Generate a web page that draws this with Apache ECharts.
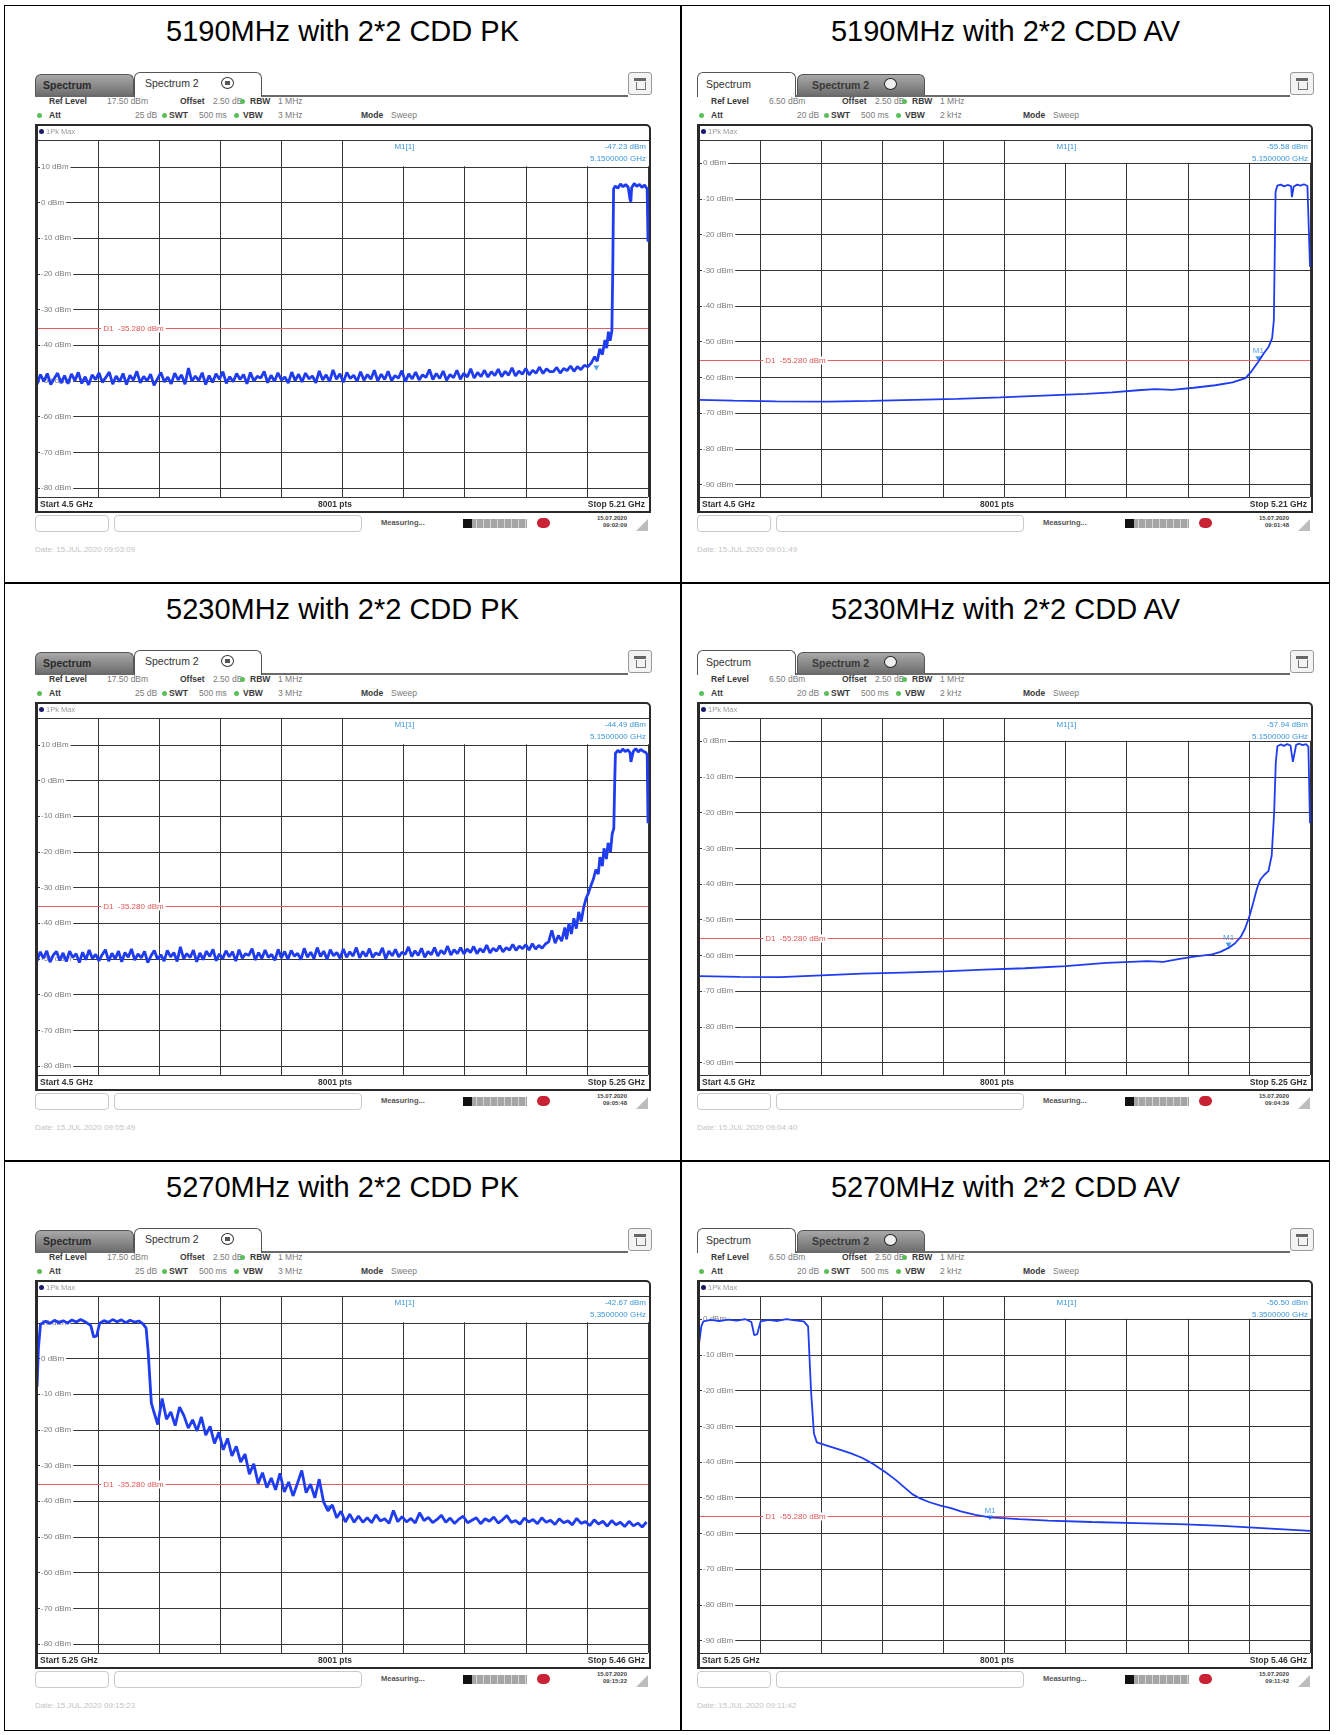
<!DOCTYPE html>
<html><head><meta charset="utf-8">
<script src="https://cdn.jsdelivr.net/npm/echarts@6/dist/echarts.min.js"></script>
<style>
html,body{margin:0;padding:0;background:#fff;}
body{width:1336px;height:1735px;position:relative;overflow:hidden;font-family:"Liberation Sans",Arial,sans-serif;}
.ab{position:absolute;white-space:nowrap;}
.title{font-size:29px;color:#000;text-align:center;line-height:34px;}
.hdr{font-size:8.5px;line-height:11px;color:#7a7a7a;}
.hdr b{color:#3a3a3a;}
.tabAct{background:#fff;border:1.5px solid #555;border-bottom:none;border-radius:6px 6px 0 0;box-sizing:border-box;font-size:10.5px;color:#333;z-index:2;}
.tabIn{background:linear-gradient(#a8a8a8,#6f6f6f);border:1px solid #555;border-bottom:none;border-radius:6px 6px 0 0;box-sizing:border-box;font-size:10.5px;font-weight:bold;color:#2a2a2a;}
.small{font-size:8.5px;font-weight:bold;color:#333;line-height:12px;}
</style>
</head><body>
<script>
// ---------------- DATA ----------------
const panelTitles = ['5190MHz with 2*2 CDD PK','5190MHz with 2*2 CDD AV','5230MHz with 2*2 CDD PK','5230MHz with 2*2 CDD AV','5270MHz with 2*2 CDD PK','5270MHz with 2*2 CDD AV'];
const detectorKind = ['PK','AV','PK','AV','PK','AV'];
const startGHz = [4.5, 4.5, 4.5, 4.5, 5.25, 5.25];
const stopGHz  = [5.21, 5.21, 5.25, 5.25, 5.46, 5.46];
const startLabels = ['Start 4.5 GHz','Start 4.5 GHz','Start 4.5 GHz','Start 4.5 GHz','Start 5.25 GHz','Start 5.25 GHz'];
const stopLabels  = ['Stop 5.21 GHz','Stop 5.21 GHz','Stop 5.25 GHz','Stop 5.25 GHz','Stop 5.46 GHz','Stop 5.46 GHz'];
const refLevels = [17.5, 6.5, 17.5, 6.5, 17.5, 6.5];
const attValues = ['25 dB','20 dB','25 dB','20 dB','25 dB','20 dB'];
const vbwValues = ['3 MHz','2 kHz','3 MHz','2 kHz','3 MHz','2 kHz'];
const displayLines = [-35.28, -55.28, -35.28, -55.28, -35.28, -55.28];
const markerFreqs  = [5.15, 5.15, 5.15, 5.15, 5.35, 5.35];
const markerLevels = [-47.23, -55.58, -44.49, -57.94, -42.67, -56.50];
const clockTimes = ['09:02:09','09:01:48','09:05:48','09:04:39','09:15:22','09:11:42'];
const dateLines = ['Date: 15.JUL.2020  09:03:09','Date: 15.JUL.2020  09:01:49','Date: 15.JUL.2020  09:05:49','Date: 15.JUL.2020  09:04:40','Date: 15.JUL.2020  09:15:23','Date: 15.JUL.2020  09:11:42'];

// 5190 PK: noise floor sampled every 4 MHz from 4.500 GHz, then band edge
const pk1NoiseStart = 4.5, pk1NoiseStep = 0.004;
const pk1Noise = [
-50.9,-48.2,-50.1,-47.9,-51.0,-49.3,-47.8,-50.6,-48.5,-50.8,
-48.0,-49.9,-47.6,-50.7,-48.8,-51.1,-48.3,-49.6,-47.7,-50.4,
-49.0,-47.5,-50.9,-48.6,-50.2,-47.9,-51.0,-48.4,-49.8,-47.3,
-50.5,-48.7,-50.0,-48.1,-51.2,-49.4,-47.6,-50.3,-48.9,-50.8,
-47.8,-49.7,-48.3,-50.9,-46.4,-50.1,-48.6,-49.9,-47.7,-51.0,
-48.5,-50.4,-48.0,-49.5,-47.4,-50.7,-48.8,-50.2,-47.9,-49.6,
-48.2,-50.8,-47.6,-50.0,-48.7,-49.2,-47.3,-50.5,-48.4,-50.1,
-47.7,-49.8,-48.9,-50.6,-47.5,-49.9,-48.1,-50.3,-47.8,-49.4,
-48.6,-50.5,-47.2,-49.7,-48.3,-50.2,-46.9,-49.5,-48.0,-50.4,
-47.6,-49.3,-48.4,-50.1,-47.4,-49.8,-48.2,-49.5,-47.0,-50.0,
-48.1,-49.6,-47.3,-49.9,-48.5,-49.2,-47.1,-50.2,-48.0,-49.4,
-47.5,-49.7,-48.3,-49.0,-46.8,-49.6,-47.9,-49.3,-47.2,-49.8,
-48.2,-49.1,-47.0,-49.5,-47.8,-48.9,-46.6,-49.2,-47.6,-48.8,
-47.0,-48.9,-47.4,-48.5,-46.7,-48.8,-47.3,-48.4,-46.3,-48.6,
-47.2,-48.1,-46.5,-48.3,-47.0,-47.8,-46.1,-47.9,-46.6,-47.4,
-47.4,-46.2,-47.8,-46.5,-47.1,-45.8,-47.3,-46.0,-46.8,-45.6,
-46.0];
const pk1Edge = [[5.144,-45.0],[5.148,-43.2],[5.151,-44.5],[5.154,-41.0],[5.157,-42.6],[5.160,-38.5],[5.162,-40.8],[5.164,-36.2],[5.166,-38.7],[5.168,-36.0],[5.169,-20.0],[5.170,3.8],[5.172,4.6],[5.175,4.0],[5.178,5.2],[5.181,4.4],[5.184,5.0],[5.187,4.3],[5.189,1.0],[5.190,0.2],[5.191,4.1],[5.194,5.3],[5.197,4.5],[5.200,5.1],[5.203,4.2],[5.206,4.9],[5.209,3.8],[5.210,-11.0]];

// 5190 AV
const av1Trace = [[4.500,-66.3],[4.540,-66.5],[4.590,-66.7],[4.650,-66.8],[4.700,-66.6],[4.750,-66.3],[4.800,-66.0],[4.850,-65.6],[4.900,-65.1],[4.950,-64.6],[4.980,-64.2],[5.010,-63.6],[5.030,-63.3],[5.050,-63.5],[5.075,-62.9],[5.100,-62.2],[5.120,-61.4],[5.135,-60.2],[5.142,-58.3],[5.150,-55.6],[5.156,-53.4],[5.162,-51.4],[5.166,-49.0],[5.168,-44.0],[5.170,-8.0],[5.172,-6.3],[5.176,-6.0],[5.180,-6.5],[5.184,-6.1],[5.188,-6.4],[5.189,-9.5],[5.191,-6.6],[5.195,-6.0],[5.199,-6.3],[5.203,-5.9],[5.207,-6.4],[5.209,-6.8],[5.210,-29.0]];

// 5230 PK
const pk2NoiseStart = 4.5, pk2NoiseStep = 0.004;
const pk2Noise = [
-50.6,-48.0,-49.8,-47.7,-50.9,-48.9,-47.9,-50.4,-48.3,-50.7,
-47.8,-49.6,-48.5,-51.0,-48.1,-50.2,-47.5,-49.9,-48.7,-50.5,
-48.8,-47.4,-50.6,-48.4,-50.0,-47.8,-50.8,-48.2,-49.5,-47.2,
-50.3,-48.6,-49.7,-47.9,-51.0,-49.1,-47.6,-50.1,-48.8,-50.6,
-47.6,-49.4,-48.2,-50.7,-46.6,-49.9,-48.5,-49.6,-47.5,-50.8,
-48.3,-50.2,-47.8,-49.3,-47.3,-50.5,-48.6,-49.9,-47.7,-49.4,
-48.0,-50.6,-47.4,-49.8,-48.5,-49.0,-47.1,-50.3,-48.2,-49.9,
-47.5,-49.6,-48.7,-50.4,-47.3,-49.7,-47.9,-50.1,-47.6,-49.2,
-48.4,-50.2,-47.0,-49.5,-48.1,-49.9,-46.8,-49.3,-47.8,-50.1,
-47.4,-49.1,-48.2,-49.8,-47.2,-49.5,-48.0,-49.2,-46.8,-49.7,
-47.9,-49.3,-47.1,-49.6,-48.3,-48.9,-46.9,-49.9,-47.8,-49.1,
-47.3,-49.4,-48.1,-48.7,-46.6,-49.3,-47.7,-49.0,-47.0,-49.5,
-47.9,-48.8,-46.8,-49.2,-47.6,-48.6,-46.4,-48.9,-47.4,-48.5,
-46.8,-48.6,-47.2,-48.2,-46.5,-48.5,-47.1,-48.1,-46.1,-48.3,
-47.0,-47.8,-46.3,-48.0,-46.8,-47.5,-45.9,-47.6,-46.4,-47.1,
-46.0,-47.5,-45.7,-47.2,-46.2,-47.0,-45.8];
const pk2Edge = [[5.128,-45.2],[5.132,-42.0],[5.136,-45.6],[5.140,-43.4],[5.144,-45.0],[5.148,-41.2],[5.150,-44.5],[5.153,-40.0],[5.156,-43.0],[5.159,-38.6],[5.162,-41.5],[5.165,-36.8],[5.168,-39.5],[5.171,-35.6],[5.174,-33.0],[5.177,-31.5],[5.180,-29.4],[5.183,-27.6],[5.186,-25.0],[5.189,-26.2],[5.191,-21.5],[5.194,-24.0],[5.196,-19.0],[5.199,-22.0],[5.201,-17.5],[5.204,-20.0],[5.206,-15.0],[5.208,-13.5],[5.209,-2.0],[5.210,7.6],[5.213,8.4],[5.216,7.9],[5.219,8.8],[5.222,8.1],[5.225,8.6],[5.228,7.8],[5.229,5.2],[5.231,5.5],[5.232,8.2],[5.235,8.9],[5.238,8.0],[5.241,8.7],[5.244,8.2],[5.247,7.9],[5.249,7.2],[5.250,-12.0]];

// 5230 AV
const av2Trace = [[4.500,-65.8],[4.550,-66.0],[4.600,-66.1],[4.650,-65.6],[4.700,-65.1],[4.750,-64.8],[4.800,-64.5],[4.850,-64.0],[4.900,-63.6],[4.950,-63.0],[5.000,-62.1],[5.030,-61.8],[5.050,-61.6],[5.070,-61.8],[5.090,-61.0],[5.110,-60.3],[5.130,-59.7],[5.140,-59.0],[5.150,-57.9],[5.158,-56.6],[5.165,-54.8],[5.170,-52.6],[5.175,-49.5],[5.180,-45.5],[5.185,-41.2],[5.189,-38.8],[5.194,-37.4],[5.199,-36.4],[5.203,-32.0],[5.206,-20.0],[5.208,-6.0],[5.210,-1.4],[5.214,-0.9],[5.218,-1.3],[5.222,-0.8],[5.226,-1.2],[5.229,-5.8],[5.231,-5.5],[5.233,-1.0],[5.237,-0.7],[5.241,-1.1],[5.245,-0.8],[5.248,-1.5],[5.250,-23.0]];

// 5270 PK: in-band plateau, decay (every 1.5 MHz from 5.290), floor (every 1.5 MHz from 5.3605)
const pk3Band = [[5.2500,-8.0],[5.2505,3.0],[5.2512,9.6],[5.2530,10.4],[5.2545,9.8],[5.2560,10.7],[5.2575,10.0],[5.2590,10.6],[5.2605,9.9],[5.2620,10.8],[5.2635,10.2],[5.2650,10.9],[5.2665,10.3],[5.2685,9.2],[5.2695,6.0],[5.2705,6.3],[5.2715,9.8],[5.2730,10.6],[5.2745,10.1],[5.2760,10.9],[5.2775,10.3],[5.2790,10.8],[5.2805,10.0],[5.2820,10.7],[5.2835,10.2],[5.2850,10.5],[5.2865,9.6],[5.2875,8.5],[5.2882,2.0],[5.2888,-6.0],[5.2893,-12.5]];
const pk3DecayStart = 5.29, pk3DecayStep = 0.0015;
const pk3Decay = [-14.5,-18.5,-11.2,-17.0,-15.0,-18.8,-13.6,-16.0,-19.5,-17.2,
-20.3,-16.4,-21.5,-19.0,-23.8,-20.7,-25.6,-22.4,-27.3,-24.6,
-29.0,-26.8,-32.4,-29.5,-35.0,-32.0,-36.2,-33.5,-36.8,-32.2,
-37.4,-34.6,-38.5,-35.0,-31.4,-37.6,-35.2,-39.0,-33.8,-40.2,
-42.7,-41.0,-44.6,-42.8,-45.8,-43.6,-45.9];
const pk3FloorStart = 5.3605, pk3FloorStep = 0.0015;
const pk3Floor = [-44.1,-45.9,-44.6,-46.0,-43.8,-45.5,-44.9,-46.2,-42.6,-45.7,
-44.3,-45.8,-44.8,-46.1,-43.2,-45.4,-44.5,-46.0,-45.1,-43.9,
-45.9,-44.7,-46.2,-45.0,-44.2,-46.0,-45.3,-44.6,-46.3,-44.9,
-45.6,-44.4,-46.1,-45.2,-44.0,-45.9,-45.4,-46.4,-44.7,-45.8,
-45.1,-46.3,-44.6,-45.9,-45.3,-46.5,-44.9,-46.0,-45.5,-46.6,
-44.8,-46.2,-45.7,-46.8,-45.2,-46.4,-45.6,-47.0,-45.4,-46.6,
-45.9,-47.1,-45.6,-46.9,-46.1,-47.2,-45.8];

// 5270 AV
const av3Trace = [[5.2500,-7.0],[5.2508,-2.0],[5.2515,-0.6],[5.2540,-0.2],[5.2570,-0.5],[5.2600,-0.1],[5.2630,-0.4],[5.2660,0.0],[5.2680,-0.8],[5.2690,-4.5],[5.2700,-4.2],[5.2712,-0.6],[5.2740,-0.2],[5.2770,-0.5],[5.2800,0.0],[5.2830,-0.3],[5.2860,-0.6],[5.2875,-2.0],[5.2885,-20.0],[5.2895,-32.0],[5.2905,-34.5],[5.2940,-35.4],[5.2986,-36.6],[5.3020,-37.5],[5.3060,-38.8],[5.3100,-40.6],[5.3140,-42.8],[5.3176,-45.0],[5.3210,-47.4],[5.3233,-49.0],[5.3260,-50.2],[5.3290,-51.2],[5.3330,-52.2],[5.3366,-52.9],[5.3400,-53.8],[5.3450,-54.8],[5.3500,-55.5],[5.3600,-56.0],[5.3700,-56.4],[5.3850,-56.8],[5.4000,-57.1],[5.4150,-57.4],[5.4300,-57.9],[5.4450,-58.6],[5.4600,-59.3]];

// ---------------- BUILD TRACES ----------------
function sampled(start, step, levels){ return levels.map((v,i)=>[+(start+i*step).toFixed(5), v]); }
const traces = [
  sampled(pk1NoiseStart, pk1NoiseStep, pk1Noise).concat(pk1Edge),
  av1Trace,
  sampled(pk2NoiseStart, pk2NoiseStep, pk2Noise).concat(pk2Edge),
  av2Trace,
  pk3Band.concat(sampled(pk3DecayStart, pk3DecayStep, pk3Decay), sampled(pk3FloorStart, pk3FloorStep, pk3Floor)),
  av3Trace
];

// ---------------- LAYOUT ----------------
function mk(parent, cls, css, text){
  const d = document.createElement('div');
  d.className = 'ab' + (cls ? ' ' + cls : '');
  d.style.cssText = css;
  if (text != null) d.textContent = text;
  parent.appendChild(d);
  return d;
}
function mkHtml(parent, cls, css, html){ const d = mk(parent, cls, css); d.innerHTML = html; return d; }

const body = document.body;
mk(body, '', 'left:4px;top:5px;width:1326px;height:1726px;border:1.5px solid #000;box-sizing:border-box;');
mk(body, '', 'left:680px;top:5px;width:1.5px;height:1726px;background:#000;');
mk(body, '', 'left:4px;top:582px;width:1326px;height:1.5px;background:#000;');
mk(body, '', 'left:4px;top:1160px;width:1326px;height:1.5px;background:#000;');

const colLeft = [4, 681], colRight = [681, 1330], shotLeft = [35, 697];
const rowTop = [5, 583, 1161];
const greenDot = 'width:5px;height:5px;border-radius:50%;background:#5cbf5c;';

for (let k = 0; k < 6; k++) {
  const r = Math.floor(k / 2), c = k % 2;
  const isPK = detectorKind[k] === 'PK';
  mk(body, 'title', `left:${colLeft[c]}px;top:${rowTop[r] + 9}px;width:${colRight[c] - colLeft[c]}px;`, panelTitles[k]);

  const shot = mk(body, '', `left:${shotLeft[c]}px;top:${rowTop[r] + 67}px;width:616px;height:495px;`);

  // tabs
  mk(shot, '', 'left:0px;top:23px;width:593px;height:2px;background:#6a6a6a;');
  if (isPK) {
    mk(shot, 'tabIn', 'left:0px;top:2px;width:99px;height:21px;padding:4px 0 0 7px;', 'Spectrum');
    const t = mk(shot, 'tabAct', 'left:99px;top:0px;width:128px;height:25px;padding:4px 0 0 10px;', 'Spectrum 2');
    mk(t, '', 'left:86px;top:4px;width:11px;height:10px;border:1.5px solid #333;border-radius:50%;background:#fff;');
    mk(t, '', 'left:90px;top:8px;width:5px;height:4px;background:#555;');
  } else {
    mk(shot, 'tabAct', 'left:0px;top:0px;width:99px;height:25px;padding:5px 0 0 8px;', 'Spectrum');
    const t = mk(shot, 'tabIn', 'left:100px;top:2px;width:128px;height:21px;padding:4px 0 0 14px;color:#3a3a3a;', 'Spectrum 2');
    mk(t, '', 'left:86px;top:3px;width:11px;height:10px;border:1.5px solid #222;border-radius:50%;background:#eee;');
  }
  const ic = mk(shot, '', 'left:593px;top:0px;width:22px;height:21px;border:1px solid #9a9a9a;border-radius:3px;background:#f3f3f3;');
  mk(ic, '', 'left:5px;top:5px;width:12px;height:3px;background:#666;');
  mk(ic, '', 'left:7px;top:9px;width:8px;height:7px;border:1px solid #777;border-top:none;');

  // header
  mkHtml(shot, 'hdr', 'left:14px;top:24px;', '<b>Ref Level</b>');
  mk(shot, 'hdr', 'left:72px;top:24px;', refLevels[k].toFixed(2) + ' dBm');
  mkHtml(shot, 'hdr', 'left:145px;top:24px;', '<b>Offset</b>');
  mk(shot, 'hdr', 'left:178px;top:24px;', '2.50 dB');
  mk(shot, '', 'left:205px;top:27px;' + greenDot);
  mkHtml(shot, 'hdr', 'left:215px;top:24px;', '<b>RBW</b>');
  mk(shot, 'hdr', 'left:243px;top:24px;', '1 MHz');
  mk(shot, '', 'left:2px;top:41px;' + greenDot);
  mkHtml(shot, 'hdr', 'left:14px;top:38px;', '<b>Att</b>');
  mk(shot, 'hdr', 'left:100px;top:38px;', attValues[k]);
  mk(shot, '', 'left:127px;top:41px;' + greenDot);
  mkHtml(shot, 'hdr', 'left:134px;top:38px;', '<b>SWT</b>');
  mk(shot, 'hdr', 'left:164px;top:38px;', '500 ms');
  mk(shot, '', 'left:199px;top:41px;' + greenDot);
  mkHtml(shot, 'hdr', 'left:208px;top:38px;', '<b>VBW</b>');
  mk(shot, 'hdr', 'left:243px;top:38px;', vbwValues[k]);
  mkHtml(shot, 'hdr', 'left:326px;top:38px;', '<b>Mode</b>');
  mk(shot, 'hdr', 'left:356px;top:38px;', 'Sweep');

  // chart + frame
  const chartDiv = mk(shot, '', 'left:0px;top:53px;width:616px;height:387px;z-index:1;');
  mk(shot, '', 'left:0px;top:52px;width:616px;height:389px;border:2px solid #2a2a2a;border-left-width:3px;border-radius:0 5px 0 0;box-sizing:border-box;z-index:3;pointer-events:none;');
  mk(shot, '', 'left:4px;top:57px;width:5px;height:5px;border-radius:50%;background:#1a1a6a;z-index:4;');
  mk(shot, '', 'left:11px;top:54px;font-size:7.5px;color:#9a9a9a;line-height:11px;z-index:4;', '1Pk Max');
  mk(shot, 'small', 'left:5px;top:426px;z-index:4;', startLabels[k]);
  mk(shot, 'small', 'left:283px;top:426px;z-index:4;', '8001 pts');
  mk(shot, 'small', 'right:6px;top:426px;z-index:4;', stopLabels[k]);

  // status bar
  mk(shot, '', 'left:0px;top:443px;width:74px;height:17px;border:1px solid #c9c9c9;border-radius:4px;box-sizing:border-box;');
  mk(shot, '', 'left:79px;top:443px;width:248px;height:17px;border:1px solid #c9c9c9;border-radius:4px;box-sizing:border-box;');
  mk(shot, '', 'left:346px;top:446px;font-size:7.5px;font-weight:bold;color:#555;', 'Measuring...');
  mk(shot, '', 'left:428px;top:447px;width:64px;height:9px;background:repeating-linear-gradient(90deg,#a5a5a5 0 6px,#d5d5d5 6px 7px);');
  mk(shot, '', 'left:428px;top:447px;width:9px;height:9px;background:#111;');
  mk(shot, '', 'left:502px;top:446px;width:13px;height:10px;border-radius:5px;background:#c92235;');
  mk(shot, '', 'left:554px;top:443px;width:38px;text-align:right;font-size:6px;font-weight:bold;color:#444;line-height:7px;white-space:pre;', '15.07.2020\n' + clockTimes[k]);
  mk(shot, '', 'left:601px;top:447px;width:0;height:0;border-left:12px solid transparent;border-bottom:12px solid #bdbdbd;');
  mk(shot, '', 'left:0px;top:473px;font-size:8px;color:#c4c4c4;', dateLines[k]);

  // ---- ECharts plot ----
  const chart = echarts.init(chartDiv, null, {renderer: 'canvas'});
  const ref = refLevels[k];
  chart.setOption({
    animation: false,
    grid: {left: 2, right: 3, top: 15, bottom: 15},
    xAxis: [
      {type: 'value', min: startGHz[k], max: stopGHz[k], show: false},
      {type: 'value', min: 0, max: 10, interval: 1, position: 'bottom',
       axisLine: {show: false}, axisTick: {show: false}, axisLabel: {show: false},
       splitLine: {show: true, lineStyle: {color: '#363636', width: 1}}}
    ],
    yAxis: [{
      type: 'value', min: ref - 100, max: ref, splitNumber: 10,
      axisLine: {show: false}, axisTick: {show: false},
      splitLine: {show: true, lineStyle: {color: '#363636', width: 1}},
      axisLabel: {inside: true, showMinLabel: false, showMaxLabel: false, margin: 3,
        formatter: v => v + ' dBm', fontSize: 8, fontFamily: 'Liberation Sans', color: '#7c7c7c',
        backgroundColor: '#fff', padding: [0, 2, 0, 1]}
    }],
    series: [{
      type: 'line', xAxisIndex: 0, yAxisIndex: 0, data: traces[k],
      showSymbol: false, symbol: 'none', z: 5,
      lineStyle: {color: '#1f3cef', width: isPK ? 2.8 : 1.8},
      markLine: {silent: true, symbol: 'none', animation: false,
        lineStyle: {color: '#e46060', width: 1, type: 'solid'}, label: {show: false},
        data: [{yAxis: displayLines[k]}]},
      markPoint: {silent: true, animation: false, symbol: 'triangle', symbolRotate: 180,
        symbolSize: [6, 5], symbolOffset: [0, -3],
        itemStyle: {color: '#4d9de3'},
        label: {show: !isPK, position: 'top', distance: 1, formatter: 'M1', color: '#4d9de3', fontSize: 8},
        data: [{coord: [markerFreqs[k], markerLevels[k]]}]}
    }]
  });

  const gx = v => chart.convertToPixel({xAxisIndex: 1}, v);
  const gy = v => chart.convertToPixel({yAxisIndex: 0}, v);
  const topY = gy(ref), firstLine = gy(Math.floor(ref / 10) * 10);
  const boxX = gx(5.8), rightX = gx(10);
  const blue = '#3d97d8';
  const f = '8px "Liberation Sans", Arial, sans-serif';
  chart.setOption({
    graphic: [
      {type: 'rect', silent: true, z: 1, shape: {x: boxX, y: topY + 1, width: rightX - boxX + 1, height: firstLine - topY - 1.5}, style: {fill: '#fff'}},
      {type: 'text', silent: true, z: 10, x: gx(5.85), y: topY + 7, style: {text: 'M1[1]', fill: blue, font: f, verticalAlign: 'middle', align: 'left'}},
      {type: 'text', silent: true, z: 10, x: rightX - 2, y: topY + 7, style: {text: markerLevels[k].toFixed(2) + ' dBm', fill: blue, font: f, verticalAlign: 'middle', align: 'right'}},
      {type: 'text', silent: true, z: 10, x: rightX - 2, y: topY + 19, style: {text: markerFreqs[k].toFixed(7) + ' GHz', fill: blue, font: f, verticalAlign: 'middle', align: 'right'}},
      {type: 'text', silent: true, z: 10, x: gx(1.05), y: gy(displayLines[k]), style: {text: 'D1  ' + displayLines[k].toFixed(3) + ' dBm', fill: '#e05555', font: f, verticalAlign: 'middle', align: 'left', backgroundColor: '#fff', padding: [0, 2]}}
    ]
  });
}
</script>
</body></html>
